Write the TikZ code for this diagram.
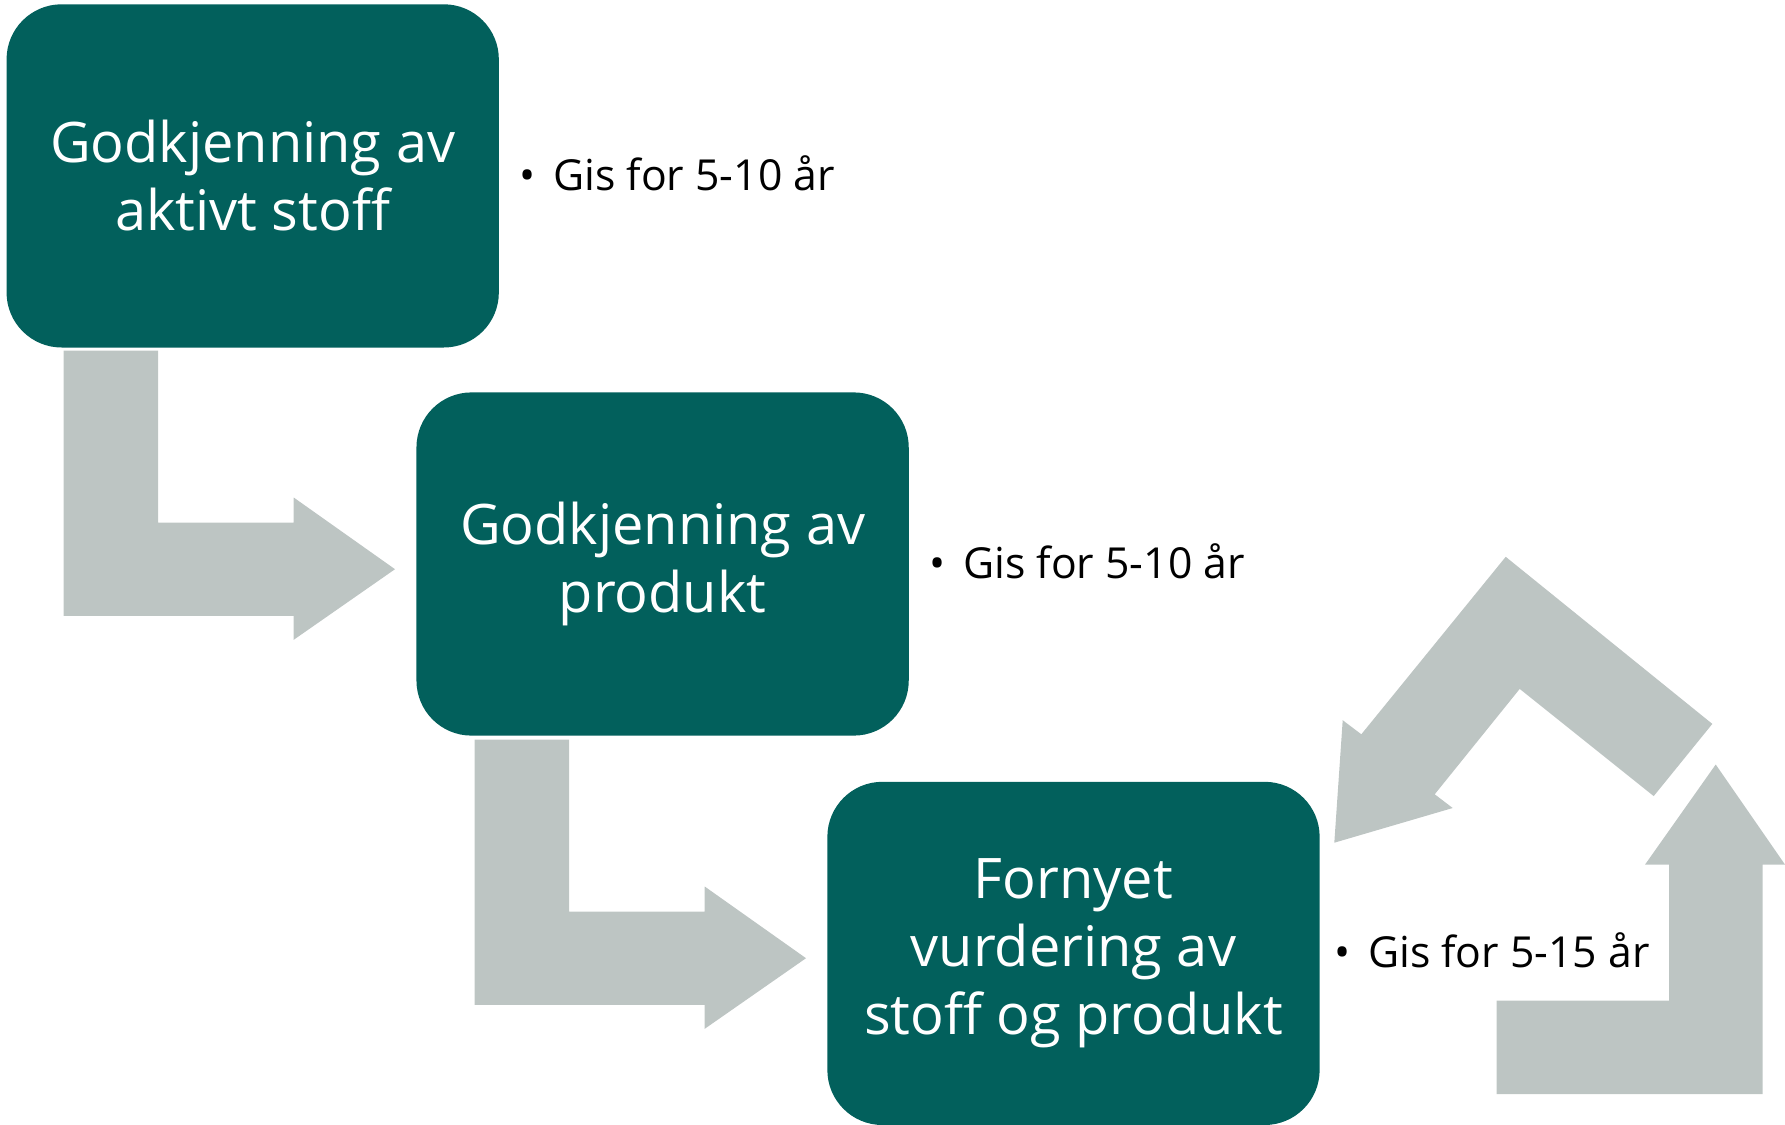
\documentclass[tikz,border=0pt]{standalone}
\usepackage{fontspec}
\setmainfont{Open Sans}
\usetikzlibrary{positioning}

\definecolor{teal}{RGB}{2,96,92}
\definecolor{arrowgray}{RGB}{189,197,195}

\begin{document}
\begin{tikzpicture}[x=0.01cm, y=-0.01cm]

% definitions
\tikzstyle{stage} = [rectangle, rounded corners=0.55cm, minimum width=4.92cm, minimum height=3.43cm, text centered, align=center, fill=teal, text=white, font=\fontsize{15.9}{19.3}\selectfont]

\tikzstyle{period} = [inner sep=0pt, anchor=west, yshift=0.03cm, font=\fontsize{12.15}{14}\selectfont]

\tikzstyle{blockarrow} = [fill=arrowgray, draw=none]

\useasboundingbox (0,0) rectangle (1785,1124);

% the graph
\node (s0) [stage] at (252.7,175.9) {Godkjenning av\\aktivt stoff};

\node (s1) [stage] at (662.6,564.0) {Godkjenning av\\produkt};

\node (s2) [stage] at (1073.5,953.4) {Fornyet\\vurdering av\\stoff og produkt};

\node (t0) [period, right=0.19cm of s0] {\makebox[0.34cm][l]{\textbullet}Gis for 5-10 år};

\node (t1) [period, right=0.19cm of s1] {\makebox[0.34cm][l]{\textbullet}Gis for 5-10 år};

\node (t2) [period, right=0.13cm of s2] {\makebox[0.34cm][l]{\textbullet}Gis for 5-15 år};

% arrows
\fill [blockarrow] (63.7,350.6) -- (158.2,350.6) -- (158.2,522.5) -- (293.7,522.5) -- (293.7,497.5) -- (395,569.2) -- (293.7,639.8) -- (293.7,615.9) -- (63.7,615.9) -- cycle;

\fill [blockarrow, shift={(411,389)}] (63.7,350.6) -- (158.2,350.6) -- (158.2,522.5) -- (293.7,522.5) -- (293.7,497.5) -- (395,569.2) -- (293.7,639.8) -- (293.7,615.9) -- (63.7,615.9) -- cycle;

\fill [blockarrow] (1496.7,1094) -- (1762.7,1094) -- (1762.7,864.6) -- (1785,864.6) -- (1715.7,764.5) -- (1645,864.6) -- (1669,864.6) -- (1669,1000.5) -- (1496.7,1000.5) -- cycle;

\fill [blockarrow] (1334.3,842.7) -- (1342.7,720.2) -- (1361.3,734.3) -- (1505.7,556.8) -- (1712.3,723.9) -- (1653.7,796.1) -- (1519.7,688.9) -- (1434.7,794.3) -- (1452.7,808) -- cycle;

\end{tikzpicture}
\end{document}
